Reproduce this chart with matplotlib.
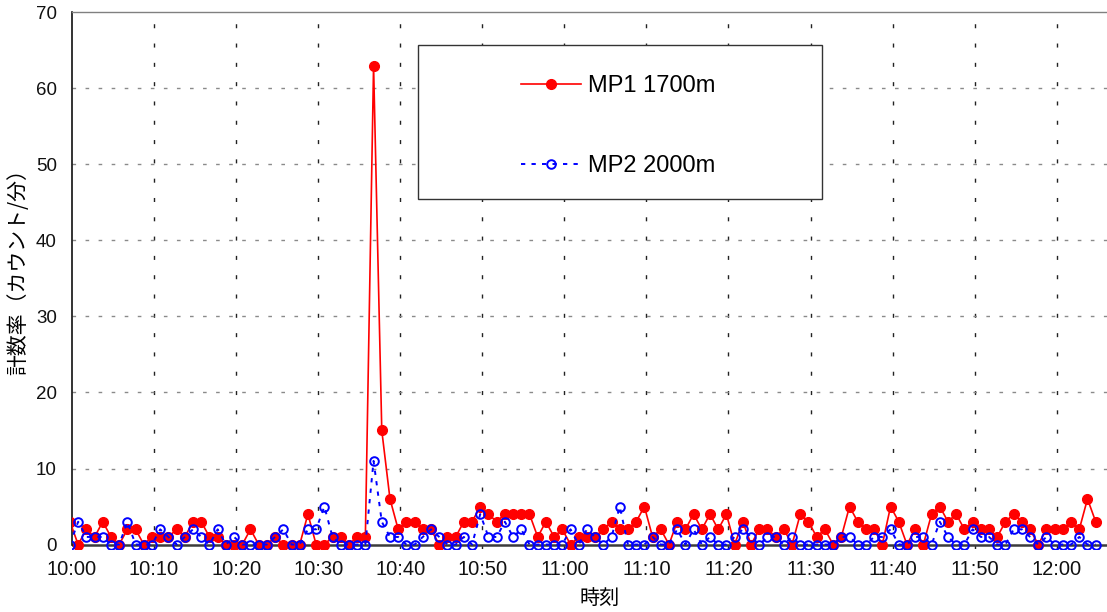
import numpy as np
import matplotlib
matplotlib.use("Agg")
import matplotlib.pyplot as plt
from matplotlib.patches import Rectangle

# counts per minute, first sample is 10:00 minus 15 s (clipped by the axis)
mp1 = [3, 0, 2, 1, 3, 1, 0, 2, 2, 0, 1, 1, 1, 2, 1, 3, 3, 1, 1, 0, 0,
       0, 2, 0, 0, 1, 0, 0, 0, 4, 0, 0, 1, 1, 0, 1, 1, 63, 15, 6, 2,
       3, 3, 2, 2, 0, 1, 1, 3, 3, 5, 4, 3, 4, 4, 4, 4, 1, 3, 1, 2,
       0, 1, 1, 1, 2, 3, 2, 2, 3, 5, 1, 2, 0, 3, 2, 4, 2, 4, 2, 4,
       0, 3, 0, 2, 2, 1, 2, 0, 4, 3, 1, 2, 0, 1, 5, 3, 2, 2, 0, 5,
       3, 0, 2, 0, 4, 5, 3, 4, 2, 3, 2, 2, 1, 3, 4, 3, 2, 0, 2, 2,
       2, 3, 2, 6, 3]
mp2 = [0, 3, 1, 1, 1, 0, 0, 3, 0, 0, 0, 2, 1, 0, 1, 2, 1, 0, 2, 0, 1,
       0, 0, 0, 0, 1, 2, 0, 0, 2, 2, 5, 1, 0, 0, 0, 0, 11, 3, 1, 1,
       0, 0, 1, 2, 1, 0, 0, 1, 0, 4, 1, 1, 3, 1, 2, 0, 0, 0, 0, 0,
       2, 0, 2, 1, 0, 1, 5, 0, 0, 0, 1, 0, 0, 2, 0, 2, 0, 1, 0, 0,
       1, 2, 1, 0, 1, 1, 0, 1, 0, 0, 0, 0, 0, 1, 1, 0, 0, 1, 1, 2,
       0, 0, 1, 1, 0, 3, 1, 0, 0, 2, 1, 1, 0, 0, 2, 2, 1, 0, 1, 0,
       0, 0, 1, 0, 0]
minutes = np.arange(len(mp1)) - 0.25   # minutes after 10:00

tick_min = list(range(0, 121, 10))
tick_labels = ['10:00', '10:10', '10:20', '10:30', '10:40', '10:50', '11:00',
               '11:10', '11:20', '11:30', '11:40', '11:50', '12:00']

W, H = 1107, 612
fig = plt.figure(figsize=(W / 100, H / 100), dpi=100)
ax = fig.add_axes([72 / W, 1 - 549.1 / H, 1 - 72 / W, (549.1 - 12.3) / H])

ax.plot(minutes, mp1, color='#ff0000', lw=1.2, marker='o', ms=7,
        mfc='#ff0000', mec='#ff0000', zorder=3, label='MP1 1700m')
ax.plot(minutes, mp2, color='#0000ff', lw=1.4, ls=(0, (2.2, 3.2)), marker='o',
        ms=6.2, mfc='none', mec='#0000ff', mew=1.4, zorder=4, label='MP2 2000m')

ax.set_xlim(0, 1035 / 8.206)
ax.set_ylim(-0.6, 70)
ax.set_xticks(tick_min)
ax.set_xticklabels(tick_labels)
ax.set_yticks(range(0, 71, 10))

tick_font = ['Liberation Sans Narrow', 'Liberation Sans']
for lab in ax.get_xticklabels():
    lab.set_family(tick_font)
    lab.set_fontsize(14.5)
for lab in ax.get_yticklabels():
    lab.set_family(tick_font)
    lab.set_fontsize(13.5)
ax.tick_params(axis='both', length=0, colors='#111111')
ax.tick_params(axis='x', pad=8)
ax.tick_params(axis='y', pad=11)

# dashed grid
for m in tick_min[1:]:
    ax.axvline(m, color='#222222', lw=1.0, ls=(0, (2.9, 11)), zorder=1)
for v in range(10, 70, 10):
    ax.axhline(v, color='#8a8a8a', lw=1.0, ls=(0, (2.6, 6.8)), zorder=1)
ax.axhline(0, color='#3c3c3c', lw=1.8, zorder=2)

ax.spines['bottom'].set_visible(False)
ax.spines['right'].set_visible(False)
ax.spines['left'].set_bounds(0, 70)
ax.spines['left'].set_color('#111111')
ax.spines['left'].set_linewidth(1.2)
ax.spines['top'].set_color('#808080')
ax.spines['top'].set_linewidth(1.0)

cjk = ['Noto Sans CJK JP', 'DejaVu Sans']
fig.text(600 / W, 1 - 598 / H, '時刻', family=cjk, fontsize=14.5,
         ha='center', va='center')
fig.text(18 / W, 1 - 267 / H, '計数率（カウント/分）', family=cjk, fontsize=15,
         rotation=90, ha='center', va='center')

# legend box (white, covers the grid)
fig.patches.append(Rectangle((418 / W, 1 - 199 / H), 404 / W, 154 / H,
                             transform=fig.transFigure, fc='white',
                             ec='#333333', lw=1.0, zorder=5))
leg = fig.legend(loc='upper left', bbox_to_anchor=(521 / W, 1 - 75 / H),
                 frameon=False, borderpad=0, borderaxespad=0,
                 handlelength=2.55, handletextpad=0.27, labelspacing=2.45,
                 prop={'family': 'Liberation Sans', 'size': 17})
leg.set_zorder(6)

fig.savefig('out.png', dpi=100)
